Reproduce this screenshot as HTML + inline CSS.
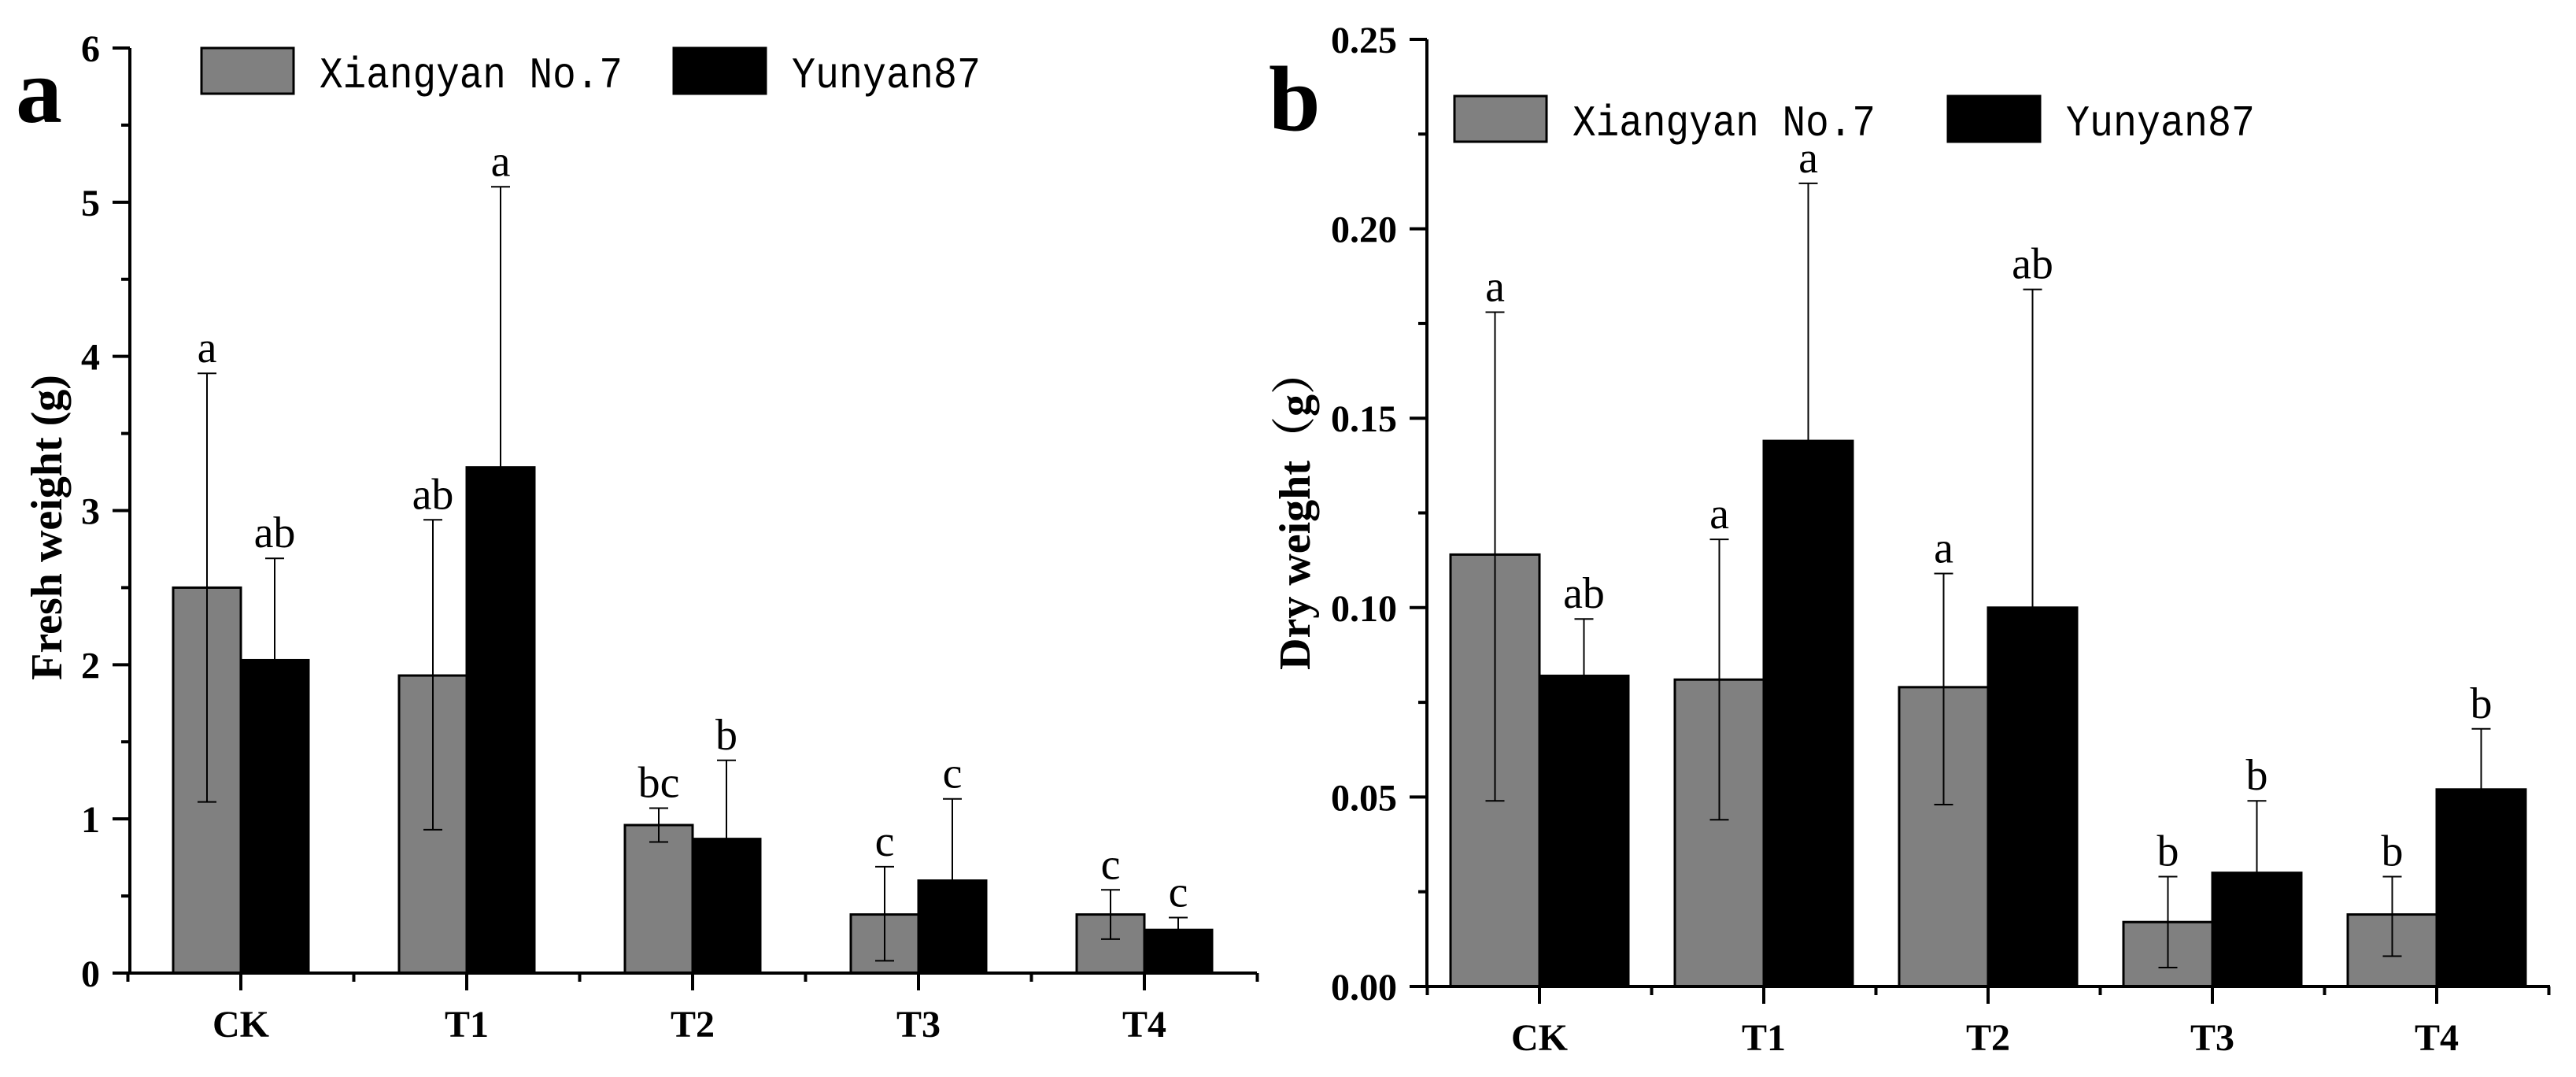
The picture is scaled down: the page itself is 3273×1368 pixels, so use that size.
<!DOCTYPE html>
<html><head><meta charset="utf-8"><style>
html,body{margin:0;padding:0;background:#fff;}
svg{display:block;}
</style></head><body>
<svg id="chart" width="3273" height="1368" xmlns="http://www.w3.org/2000/svg"></svg>
<script>
const categories = ["CK","T1","T2","T3","T4"];
const freshXiang = [2.50, 1.93, 0.96, 0.38, 0.38];
const freshXiangUp = [3.89, 2.94, 1.07, 0.69, 0.54];
const freshXiangLo = [1.11, 0.93, 0.85, 0.08, 0.22];
const freshXiangLetters = ["a","ab","bc","c","c"];
const freshYun = [2.03, 3.28, 0.87, 0.60, 0.28];
const freshYunUp = [2.69, 5.10, 1.38, 1.13, 0.36];
const freshYunLetters = ["ab","a","b","c","c"];
const freshTicks = ["0","1","2","3","4","5","6"];
const dryXiang = [0.114, 0.081, 0.079, 0.017, 0.019];
const dryXiangUp = [0.178, 0.118, 0.109, 0.029, 0.029];
const dryXiangLo = [0.049, 0.044, 0.048, 0.005, 0.008];
const dryXiangLetters = ["a","a","a","b","b"];
const dryYun = [0.082, 0.144, 0.100, 0.030, 0.052];
const dryYunUp = [0.097, 0.212, 0.184, 0.049, 0.068];
const dryYunLetters = ["ab","a","ab","b","b"];
const dryTicks = ["0.00","0.05","0.10","0.15","0.20","0.25"];

const svg = document.getElementById('chart');
const NS = 'http://www.w3.org/2000/svg';
function mk(tag, attrs, parent, text){
  const e = document.createElementNS(NS, tag);
  for (const k in attrs) e.setAttribute(k, attrs[k]);
  if (text !== undefined) e.textContent = text;
  (parent || svg).appendChild(e);
  return e;
}

function panel(o){
  const g = mk('g', {});
  
  
  const y = v => o.y0 - (v / o.ymax) * (o.y0 - o.yTop);
  const x = i => o.cx0 + i * o.step;
  // bars
  for (let i = 0; i < categories.length; i++){
    const xs = x(i);
    const r1 = mk('rect', {x: xs - o.bw, y: y(o.s1[i]), width: o.bw, height: o.y0 - y(o.s1[i]), fill: '#808080', stroke: '#000', 'stroke-width': 3}, g);
    
    
    const r2 = mk('rect', {x: xs, y: y(o.s2[i]), width: o.bw, height: o.y0 - y(o.s2[i]), fill: '#000', stroke: '#000', 'stroke-width': 3}, g);
    
    
    // error bars
    const c1 = xs - o.bw / 2, c2 = xs + o.bw / 2;
    const e1 = mk('path', {d: `M${c1},${y(o.s1Up[i])}V${y(o.s1Lo[i])}M${c1-12},${y(o.s1Up[i])}h24M${c1-12},${y(o.s1Lo[i])}h24`, stroke: '#000', 'stroke-width': 2, fill: 'none'}, g);
    
    
    const e2 = mk('path', {d: `M${c2},${y(o.s2Up[i])}V${y(o.s2[i])}M${c2-12},${y(o.s2Up[i])}h24`, stroke: '#000', 'stroke-width': 2, fill: 'none'}, g);
    
    
    const l1 = mk('text', {x: c1, y: y(o.s1Up[i]) - 14, 'text-anchor': 'middle', 'font-family': 'Liberation Serif, serif', 'font-size': 56}, g, o.l1[i]);
    
    
    const l2 = mk('text', {x: c2, y: y(o.s2Up[i]) - 14, 'text-anchor': 'middle', 'font-family': 'Liberation Serif, serif', 'font-size': 56}, g, o.l2[i]);
    
    
  }
  // axes
  const ax = mk('path', {d: `M${o.ax},${o.yTop}V${o.y0}H${o.xEnd}`, stroke: '#000', 'stroke-width': 4, fill: 'none'}, g);
  
  
  // y ticks
  const n = o.ticks.length - 1;
  for (let k = 0; k <= n; k++){
    const v = o.ymax * k / n;
    mk('line', {x1: o.ax - 22, x2: o.ax, y1: y(v), y2: y(v), stroke: '#000', 'stroke-width': 4}, g);
    if (k < n) mk('line', {x1: o.ax - 11, x2: o.ax, y1: y(v + o.ymax / n / 2), y2: y(v + o.ymax / n / 2), stroke: '#000', 'stroke-width': 4}, g);
    const t = mk('text', {x: o.ax - 38, y: y(v) + 17, 'text-anchor': 'end', 'font-family': 'Liberation Serif, serif', 'font-weight': 'bold', 'font-size': 48}, g, o.ticks[k]);
    
    
  }
  // x ticks
  for (let i = 0; i < categories.length; i++){
    mk('line', {x1: x(i), x2: x(i), y1: o.y0, y2: o.y0 + 22, stroke: '#000', 'stroke-width': 4}, g);
    mk('line', {x1: x(i) + o.step / 2, x2: x(i) + o.step / 2, y1: o.y0, y2: o.y0 + 11, stroke: '#000', 'stroke-width': 4}, g);
    const t = mk('text', {x: x(i), y: o.y0 + 81, 'text-anchor': 'middle', 'font-family': 'Liberation Serif, serif', 'font-weight': 'bold', 'font-size': 48}, g, categories[i]);
    
    
  }
  mk('line', {x1: x(0) - o.step / 2, x2: x(0) - o.step / 2, y1: o.y0, y2: o.y0 + 11, stroke: '#000', 'stroke-width': 4}, g);
  // y title
  const yt = mk('text', {transform: `translate(${o.ytx},${o.yty}) rotate(-90)`, 'text-anchor': 'middle', 'font-family': 'Liberation Serif, "Noto Serif CJK SC", serif', 'font-weight': 'bold', 'font-size': 56}, g, o.ytitle);
  
  
  // panel letter
  const pl = mk('text', {x: o.px, y: o.py, 'font-family': 'Liberation Serif, serif', 'font-weight': 'bold', 'font-size': 118}, g, o.letter);
  
  
  // legend
  const lg = mk('g', {}, g);
  
  
  const b1 = mk('rect', {x: o.lx1, y: o.ly, width: 117, height: 58, fill: '#808080', stroke: '#000', 'stroke-width': 3}, lg);
  
  
  const t1 = mk('text', {x: o.lx1 + 150, y: o.ly + 50, 'font-family': 'Liberation Mono, monospace', 'font-size': 56, textLength: 385, lengthAdjust: 'spacingAndGlyphs'}, lg, 'Xiangyan No.7');
  
  
  const b2 = mk('rect', {x: o.lx2, y: o.ly, width: 117, height: 58, fill: '#000', stroke: '#000', 'stroke-width': 3}, lg);
  
  
  const t2 = mk('text', {x: o.lx2 + 150, y: o.ly + 50, 'font-family': 'Liberation Mono, monospace', 'font-size': 56, textLength: 240, lengthAdjust: 'spacingAndGlyphs'}, lg, 'Yunyan87');
  
  
}

panel({name:'fresh-weight-chart', ax:165, xEnd:1597, yTop:61, y0:1236, ymax:6, cx0:306, step:287, bw:86,
  s1:freshXiang, s1Up:freshXiangUp, s1Lo:freshXiangLo, s2:freshYun, s2Up:freshYunUp, l1:freshXiangLetters, l2:freshYunLetters,
  ticks:freshTicks, ytitle:'Fresh weight (g)', ytx:78, yty:670, letter:'a', px:20, py:155, lx1:256, lx2:856, ly:61});
panel({name:'dry-weight-chart', ax:1813, xEnd:3240, yTop:50, y0:1253, ymax:0.25, cx0:1956, step:285, bw:113,
  s1:dryXiang, s1Up:dryXiangUp, s1Lo:dryXiangLo, s2:dryYun, s2Up:dryYunUp, l1:dryXiangLetters, l2:dryYunLetters,
  ticks:dryTicks, ytitle:'Dry weight（g）', ytx:1664, yty:648, letter:'b', px:1612, py:165, lx1:1848, lx2:2475, ly:122});
</script>
</body></html>
